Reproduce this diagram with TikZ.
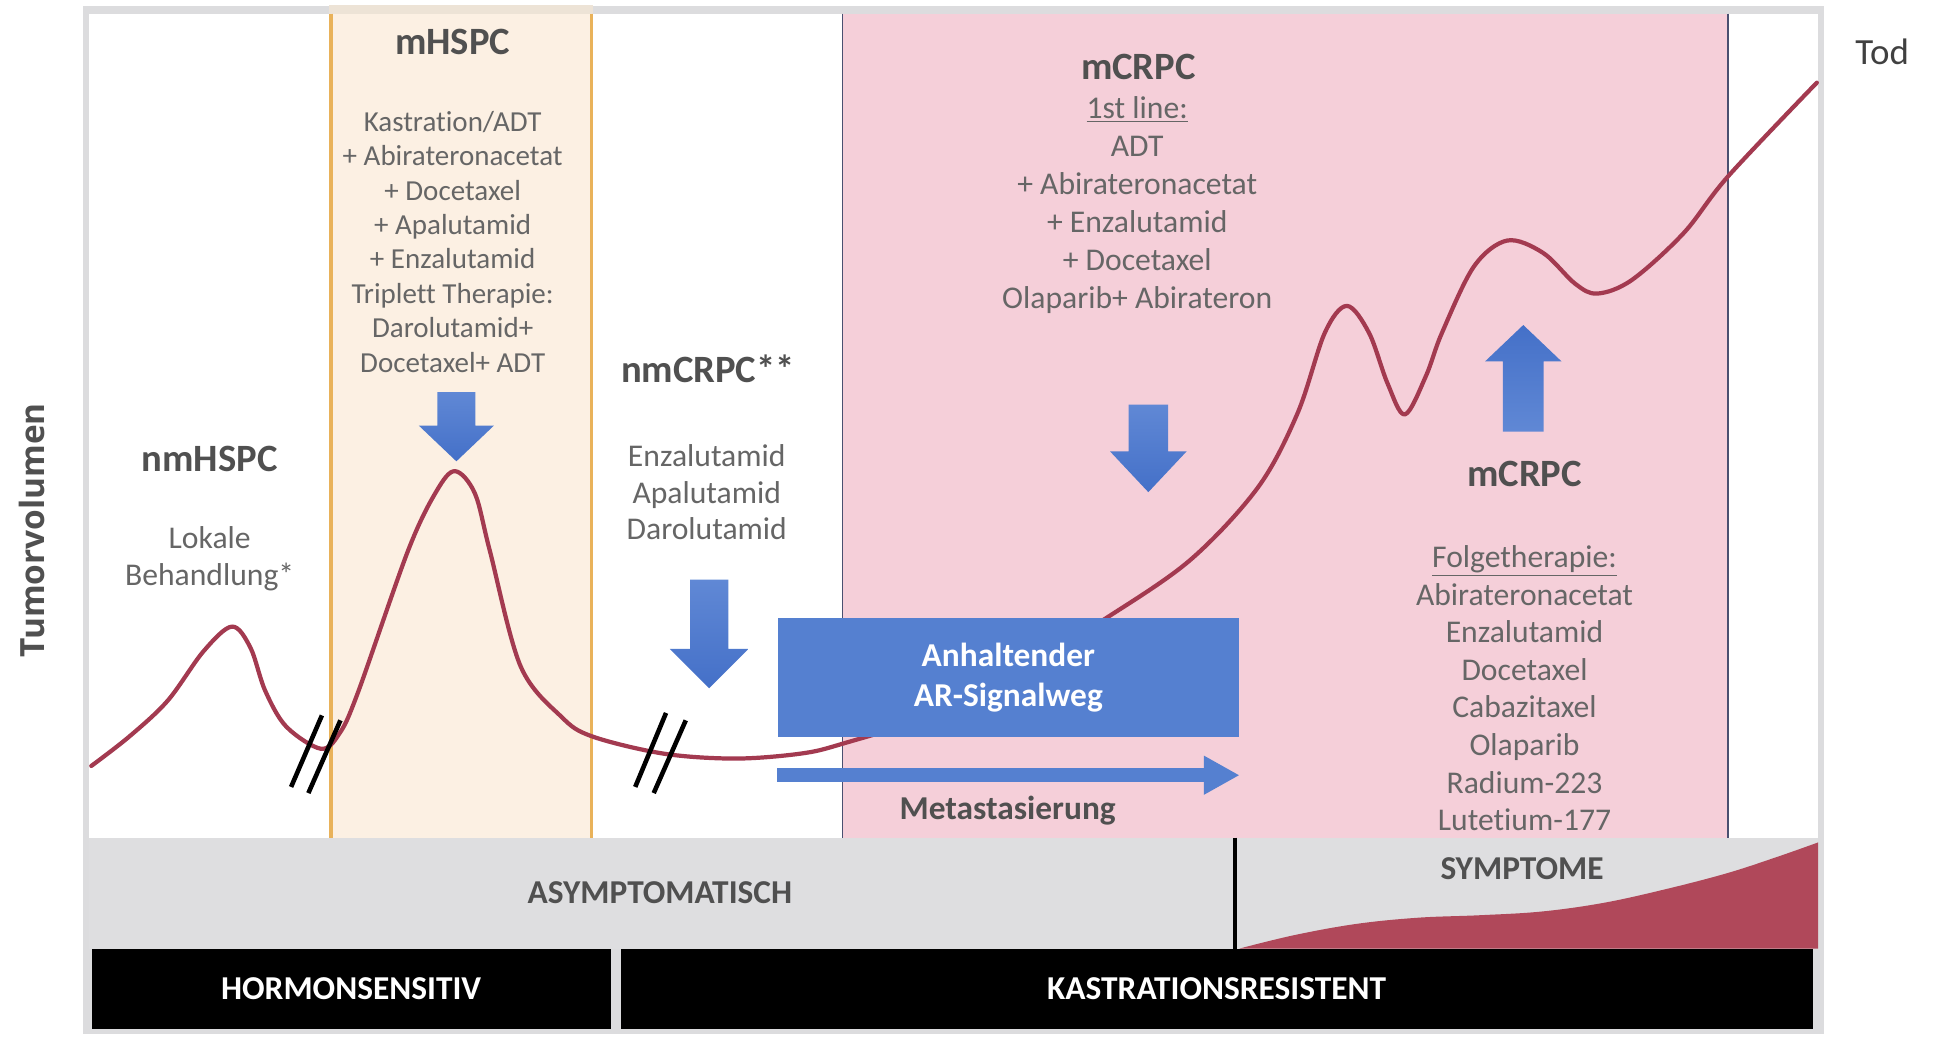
\documentclass[tikz,border=0pt]{standalone}
\usepackage{fontspec}
\setmainfont{Carlito}[Ligatures=NoCommon]
\newfontfamily\osans{Open Sans}
\usetikzlibrary{arrows.meta}
\definecolor{peach}{HTML}{FCF0E3}
\definecolor{peachtop}{HTML}{EDE3D6}
\definecolor{orangeline}{HTML}{E9B25A}
\definecolor{pinkbg}{HTML}{F5CFD9}
\definecolor{greyband}{HTML}{DEDEE0}
\definecolor{framegrey}{HTML}{DCDCDE}
\definecolor{curvered}{HTML}{A33A50}
\definecolor{sympred}{HTML}{B0485A}
\definecolor{boxblue}{HTML}{5580D0}
\definecolor{arrowdark}{HTML}{4470C8}
\definecolor{arrowlight}{HTML}{6088D5}
\definecolor{headgrey}{HTML}{505050}
\definecolor{listgrey}{HTML}{666666}
\definecolor{slate}{HTML}{4A5070}
\newcommand{\dnarrow}[6]{% cx, shaft half, head half, ytop, yhead, ytip
  \path[top color=arrowlight, bottom color=arrowdark]
    (#1-#2,#4) -- (#1+#2,#4) -- (#1+#2,#5) -- (#1+#3,#5) -- (#1,#6) -- (#1-#3,#5) -- (#1-#2,#5) -- cycle;}
\newcommand{\uparrowblk}[6]{% cx, shaft half, head half, ybottom, yhead, ytip
  \path[top color=arrowdark, bottom color=arrowlight]
    (#1-#2,#4) -- (#1+#2,#4) -- (#1+#2,#5) -- (#1+#3,#5) -- (#1,#6) -- (#1-#3,#5) -- (#1-#2,#5) -- cycle;}
\begin{document}
\begin{tikzpicture}[x=0.024668cm, y=-0.024668cm,
  heading/.style={font=\fontsize{22}{26}\selectfont\bfseries, text=headgrey, inner sep=0pt},
  listtext/.style={font=\fontsize{18}{21.6}\selectfont, text=listgrey, align=center, inner sep=0pt},
  bartext/.style={font=\fontsize{19}{22}\selectfont\bfseries, text=white, inner sep=0pt},
  bandtext/.style={font=\fontsize{19}{22}\selectfont\bfseries, text=headgrey, inner sep=0pt},
  curve/.style={draw=curvered, line width=2.4pt, line join=round, line cap=round},
  breakmark/.style={draw=black, line width=2.6pt},
]
\useasboundingbox (0,0) rectangle (1568,841);
\fill[white] (0,0) rectangle (1568,841);
% frame and plot area
\fill[framegrey] (67,5) rectangle (1479,838);
\fill[white] (72,11) rectangle (1474,679);
% mHSPC band
\fill[peach] (267,4) rectangle (481,679);
\fill[peachtop] (267,4) rectangle (481,11);
\draw[orangeline, line width=2.1pt] (268.5,11) -- (268.5,679);
\draw[orangeline, line width=2.1pt] (479.5,11) -- (479.5,679);
% mCRPC pink region
\fill[pinkbg] (683,11) rectangle (1401,679);
\draw[slate, line width=0.9pt] (683,11) -- (683,679);
\draw[slate, line width=0.9pt] (1401,11) -- (1401,679);
% grey band and symptoms
\fill[greyband] (72,679) rectangle (1474,769);
\fill[sympred] plot[smooth, tension=0.6] coordinates {(1005,769) (1050,758) (1100,749) (1150,744) (1200,742) (1250,739) (1300,732) (1350,721) (1400,708) (1440,695) (1474,683)} -- (1474,769) -- cycle;
\draw[black, line width=2.1pt] (1001,679) -- (1001,769);
% bottom black bars
\node (hormbar) [fill=black, minimum width=295.4pt, minimum height=45.5pt, inner sep=0pt, anchor=north west] at (74,769) {};
\node (kastbar) [fill=black, minimum width=678.3pt, minimum height=45.5pt, inner sep=0pt, anchor=north west] at (503,769) {};
% tumour curve
\draw[curve] plot[smooth, tension=0.55] coordinates {(74,621) (105,597) (136,568) (165,528) (188,508) (203,525) (215,560) (232,589) (260,607) (275,595) (290,562) (331,446) (354,398) (369,382) (385,400) (397,446) (422,540) (455,581) (480,597) (538,611) (596,615) (649,611) (683,603) (760,578) (840,535) (897,501) (965,454) (1020,395) (1052,335) (1074,270) (1092,248) (1110,270) (1125,311) (1139,336) (1156,305) (1169,270) (1195,216) (1222,195) (1251,205) (1277,230) (1295,238) (1323,227) (1365,189) (1401,143) (1473,67)};
% break marks
\draw[breakmark] (236,638) -- (261,580);
\draw[breakmark] (250,643) -- (276,584);
\draw[breakmark] (515,638) -- (540,578);
\draw[breakmark] (530,643) -- (556,584);
% block arrows
\dnarrow{370}{15.5}{30.5}{318}{345}{374}
\dnarrow{575}{15.5}{32}{470}{526}{558}
\dnarrow{931}{16}{31}{328}{366}{399}
\uparrowblk{1235}{16.5}{31}{350}{293}{263.5}
% AR box and metastasis arrow
\node (arbox) [fill=boxblue, minimum width=262.5pt, minimum height=67.9pt, inner sep=0pt, align=center,
  font=\fontsize{19}{23}\selectfont\bfseries, text=white] at (817.5,549.5) {Anhaltender\\AR-Signalweg};
\coordinate (metaS) at (630,628.5);
\coordinate (metaE) at (1005,628.5);
\draw[boxblue, line width=7.7pt, -{Triangle[length=20.3pt, width=20.7pt]}] (metaS) -- (metaE);
\node (meta) [bandtext] at (817,657) {Metastasierung};
% texts
\node (yaxis) [rotate=90, font=\osans\bfseries\fontsize{19}{22}\selectfont, text=headgrey, inner sep=0pt] at (26,430) {Tumorvolumen};
\node (tod) [font=\fontsize{21}{24}\selectfont, text=headgrey!80!black, inner sep=0pt] at (1526,42) {Tod};
\node (nmhspc) [heading] at (170,372) {nmHSPC};
\node (lokale) [listtext] at (170,453) {Lokale\\Behandlung*};
\node (mhspc) [heading] at (367,34) {mHSPC};
\node (mhspclist) [listtext, font=\fontsize{16.5}{19.6}\selectfont] at (367,196) {Kastration/ADT\\+ Abirateronacetat\\+ Docetaxel\\+ Apalutamid\\+ Enzalutamid\\Triplett Therapie:\\Darolutamid+\\Docetaxel+ ADT};
\node (nmcrpc) [heading] at (574,299) {nmCRPC**};
\node (nmcrpclist) [listtext, font=\fontsize{18}{20.7}\selectfont] at (573,399) {Enzalutamid\\Apalutamid\\Darolutamid};
\node (mcrpc1) [heading] at (923,54) {mCRPC};
\node (mcrpclist) [listtext] at (922,166) {\underline{1st line:}\\ADT\\+ Abirateronacetat\\+ Enzalutamid\\+ Docetaxel\\Olaparib+ Abirateron};
\node (mcrpc2) [heading] at (1236,384) {mCRPC};
\node (folgelist) [listtext, font=\fontsize{18}{21.4}\selectfont] at (1236,558) {\underline{Folgetherapie:}\\Abirateronacetat\\Enzalutamid\\Docetaxel\\Cabazitaxel\\Olaparib\\Radium-223\\Lutetium-177};
\node (asym) [bandtext] at (535,724) {ASYMPTOMATISCH};
\node (symp) [bandtext] at (1234,704) {SYMPTOME};
\node (hormtxt) [bartext] at (hormbar.center) {HORMONSENSITIV};
\node (kasttxt) [bartext] at (kastbar.center) {KASTRATIONSRESISTENT};
\end{tikzpicture}
\end{document}
